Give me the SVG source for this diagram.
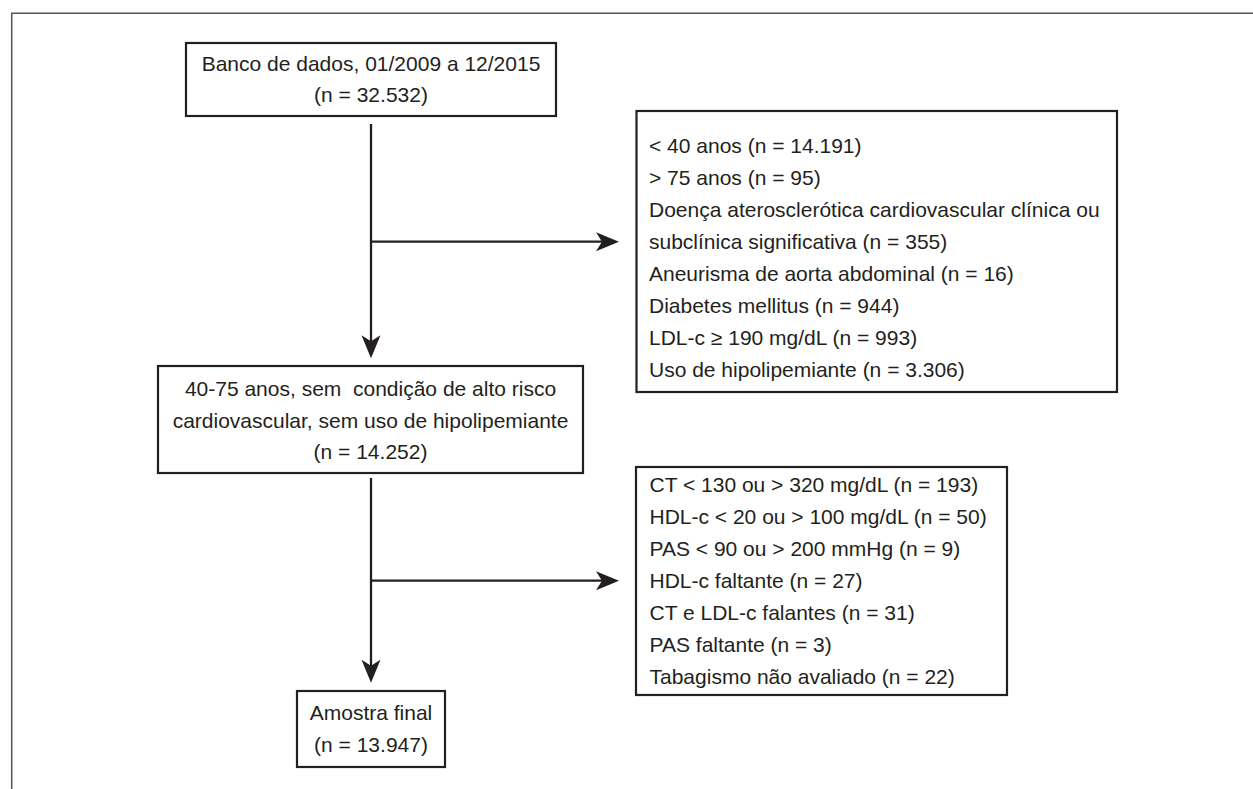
<svg xmlns="http://www.w3.org/2000/svg" width="1253" height="789" viewBox="0 0 1253 789">
<style>
.box{fill:#fff;stroke:#231f20;stroke-width:2.2}
.t{font-family:"Liberation Sans",Arial,sans-serif;font-size:21px;fill:#231f20;white-space:pre}
.c{text-anchor:middle}
.ln{stroke:#231f20;stroke-width:2.3;fill:none}
.frame{stroke:#555;stroke-width:1.5;fill:none}
</style>
<defs>
<marker id="ah" markerUnits="userSpaceOnUse" markerWidth="26" markerHeight="22" refX="10" refY="10" orient="auto" viewBox="0 0 26 22">
<path d="M23,10 L0,0.5 L6,10 L0,19.5 Z" fill="#231f20"/>
</marker>
</defs>
<rect width="1253" height="789" fill="#fff"/>
<path class="frame" d="M11.7,789 V13.3 H1253"/>
<g id="connectors">
<line class="ln" x1="371" y1="124" x2="371" y2="345.3" marker-end="url(#ah)"/>
<line class="ln" x1="371" y1="478" x2="371" y2="669.7" marker-end="url(#ah)"/>
<line class="ln" x1="371" y1="241.7" x2="606" y2="241.7" marker-end="url(#ah)"/>
<line class="ln" x1="371" y1="580.7" x2="606" y2="580.7" marker-end="url(#ah)"/>
</g>
<g id="n1">
<rect class="box" x="186" y="43" width="370" height="73"/>
<text class="t c" x="371" y="71">Banco de dados, 01/2009 a 12/2015</text>
<text class="t c" x="371" y="101.5">(n = 32.532)</text>
</g>
<g id="n2">
<rect class="box" x="158" y="366" width="425" height="107"/>
<text class="t c" x="370.5" y="396">40-75 anos, sem  condição de alto risco</text>
<text class="t c" x="370.5" y="427.5">cardiovascular, sem uso de hipolipemiante</text>
<text class="t c" x="370.5" y="459">(n = 14.252)</text>
</g>
<g id="n3">
<rect class="box" x="636.5" y="111" width="480.5" height="281"/>
<text class="t" x="649" y="153.2">&lt; 40 anos (n = 14.191)</text>
<text class="t" x="649" y="185.2">&gt; 75 anos (n = 95)</text>
<text class="t" x="649" y="217.2">Doença aterosclerótica cardiovascular clínica ou</text>
<text class="t" x="649" y="249.2">subclínica significativa (n = 355)</text>
<text class="t" x="649" y="281.2">Aneurisma de aorta abdominal (n = 16)</text>
<text class="t" x="649" y="313.2">Diabetes mellitus (n = 944)</text>
<text class="t" x="649" y="345.2">LDL-c ≥ 190 mg/dL (n = 993)</text>
<text class="t" x="649" y="377.2">Uso de hipolipemiante (n = 3.306)</text>
</g>
<g id="n4">
<rect class="box" x="636" y="467" width="371" height="228"/>
<text class="t" x="649.5" y="492.2">CT &lt; 130 ou &gt; 320 mg/dL (n = 193)</text>
<text class="t" x="649.5" y="524.2">HDL-c &lt; 20 ou &gt; 100 mg/dL (n = 50)</text>
<text class="t" x="649.5" y="556.2">PAS &lt; 90 ou &gt; 200 mmHg (n = 9)</text>
<text class="t" x="649.5" y="588.2">HDL-c faltante (n = 27)</text>
<text class="t" x="649.5" y="620.2">CT e LDL-c falantes (n = 31)</text>
<text class="t" x="649.5" y="652.2">PAS faltante (n = 3)</text>
<text class="t" x="649.5" y="684.2">Tabagismo não avaliado (n = 22)</text>
</g>
<g id="n5">
<rect class="box" x="297" y="691" width="148" height="76"/>
<text class="t c" x="371" y="720">Amostra final</text>
<text class="t c" x="371" y="752">(n = 13.947)</text>
</g>
</svg>
